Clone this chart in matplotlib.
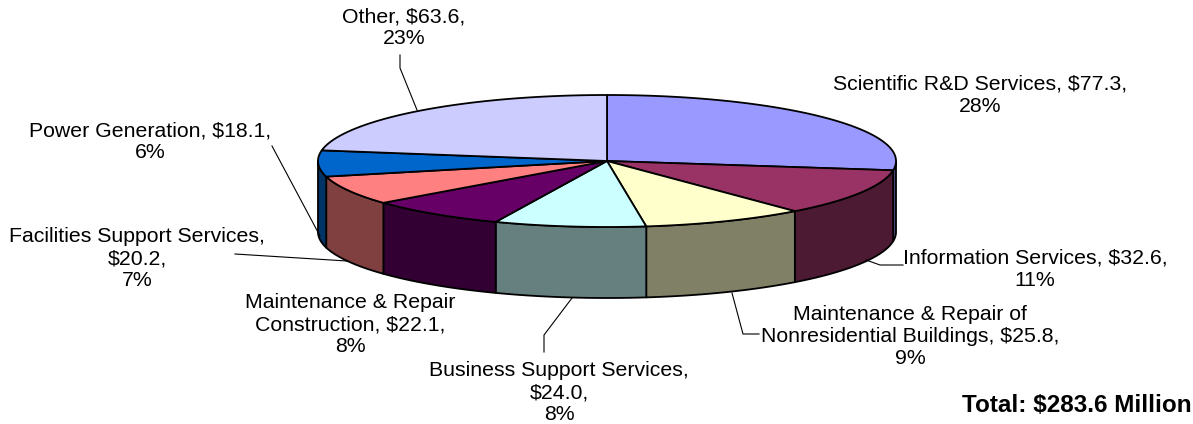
import numpy as np
import matplotlib
matplotlib.use("Agg")
import matplotlib.pyplot as plt
from matplotlib.patches import Polygon

# ---- data ----
categories = ["Scientific R&D Services", "Information Services",
              "Maintenance & Repair of\nNonresidential Buildings",
              "Business Support Services", "Maintenance & Repair\nConstruction",
              "Facilities Support Services", "Power Generation", "Other"]
values = [77.3, 32.6, 25.8, 24.0, 22.1, 20.2, 18.1, 63.6]
percents = [28, 11, 9, 8, 8, 7, 6, 23]
total_text = "Total: $283.6 Million"

# separators between name / value / percent in each label
sep_value = [" ", " ", " ", "\n", " ", "\n", " ", " "]
sep_pct = ["\n"] * 8

# ---- style ----
top_colors = ["#9999FF", "#993366", "#FFFFCC", "#CCFFFF", "#660066", "#FF8080", "#0066CC", "#CCCCFF"]
side_colors = ["#4D4D80", "#4D1A33", "#808066", "#668080", "#330033", "#804040", "#003366", "#666680"]

# ---- layout (pixels) ----
W, H = 1193, 424
cx, cy, a, b, depth = 607, 161, 289, 66, 71
label_pos = [(980, 95), (1035, 269), (910, 336), (559, 393),
             (350, 325), (137, 259), (150, 142), (404, 28)]
leaders = [None,
           [(903, 265), (880, 265), (866, 260)],
           [(759, 334), (743, 334), (732, 293)],
           [(544, 352), (544, 335), (572, 298)],
           None,
           [(235, 254), (347, 261)],
           [(272, 146), (320, 236)],
           [(400, 55), (400, 68), (417, 110)]]

fs = 15.3
family = ["Liberation Sans", "Arial", "DejaVu Sans"]

fig = plt.figure(figsize=(W / 100, H / 100), dpi=100)
ax = fig.add_axes([0, 0, 1, 1])
ax.set_xlim(0, W)
ax.set_ylim(H, 0)
ax.axis("off")

vals = np.array(values)
bounds = np.concatenate([[0], np.cumsum(vals) / vals.sum() * 360.0])


def ept(theta_deg, dy=0.0):
    t = np.radians(theta_deg)
    return cx + a * np.sin(t), cy - b * np.cos(t) + dy


lw = 1.3
# sides (front visible part: 90..270 deg)
for i in range(len(values)):
    t0, t1 = max(bounds[i], 90), min(bounds[i + 1], 270)
    if t1 <= t0:
        continue
    ts = np.linspace(t0, t1, 80)
    top = [ept(t) for t in ts]
    bot = [ept(t, depth) for t in ts[::-1]]
    ax.add_patch(Polygon(top + bot, closed=True, facecolor=side_colors[i],
                         edgecolor="black", lw=lw, joinstyle="round"))

# top faces
for i in range(len(values)):
    ts = np.linspace(bounds[i], bounds[i + 1], 150)
    pts = [(cx, cy)] + [ept(t) for t in ts]
    ax.add_patch(Polygon(pts, closed=True, facecolor=top_colors[i],
                         edgecolor="black", lw=lw, joinstyle="round"))

# labels
for i, name in enumerate(categories):
    txt = f"{name},{sep_value[i]}${values[i]:.1f},{sep_pct[i]}{percents[i]}%"
    x, y = label_pos[i]
    ax.text(x, y, txt, ha="center", va="center", multialignment="center",
            fontsize=fs, family=family, color="black")
    if leaders[i]:
        xs, ys = zip(*leaders[i])
        ax.plot(xs, ys, color="black", lw=0.8)

ax.text(1192, 406, total_text, ha="right", va="center", fontsize=17.5,
        fontweight="bold", family=family, color="black")

fig.savefig("out.png", dpi=100, facecolor="white")
